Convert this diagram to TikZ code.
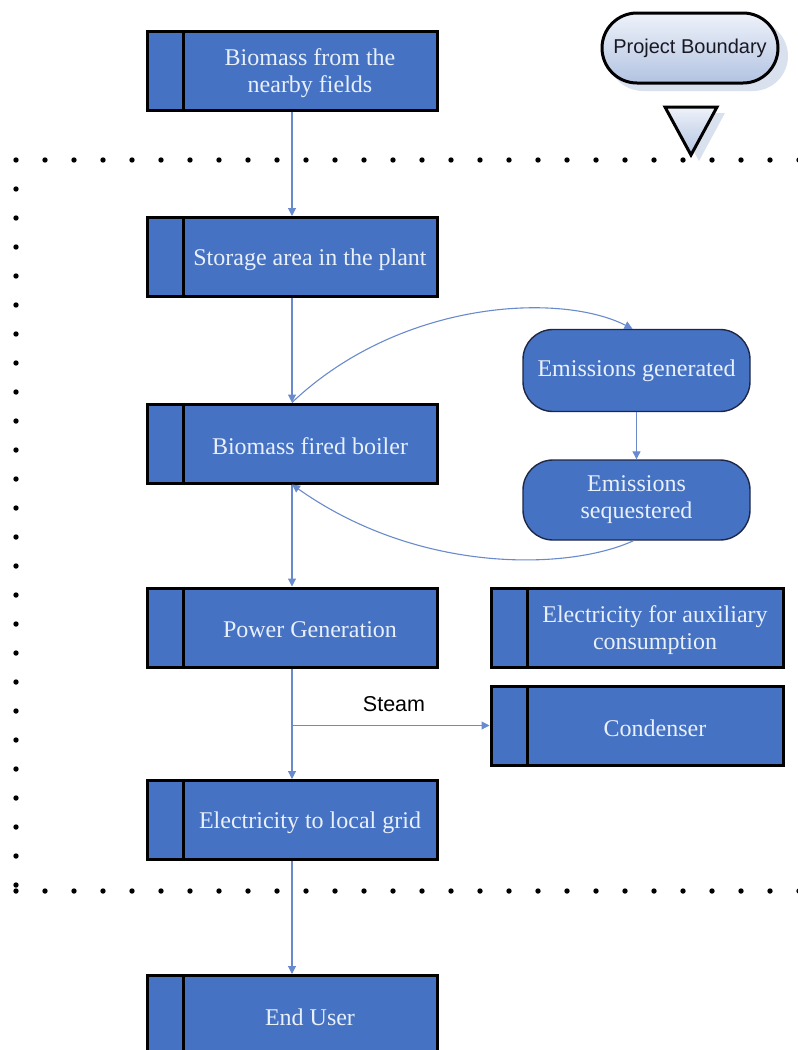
\documentclass[tikz,border=0pt]{standalone}
\usepackage{fontspec}
\setmainfont{Liberation Serif}
\newfontfamily\sansf{Liberation Sans}
\usetikzlibrary{arrows.meta,shapes.misc}
\definecolor{boxblue}{RGB}{70,114,196}
\definecolor{boxtxtc}{RGB}{232,240,250}
\definecolor{flowc}{RGB}{105,138,204}
\definecolor{pbtop}{RGB}{238,242,250}
\definecolor{pbbot}{RGB}{178,195,225}
\definecolor{shadowc}{RGB}{218,225,238}
\tikzset{
  procbox/.style={draw=black, line width=3pt, fill=boxblue, minimum width=290pt, minimum height=79pt, inner sep=0pt,
    path picture={\draw[line width=3pt] ([xshift=36pt]path picture bounding box.north west) -- ([xshift=36pt]path picture bounding box.south west);}},
  roundbox/.style={draw={rgb,255:red,30;green,40;blue,70}, line width=1.4pt, fill=boxblue, rounded corners=30pt,
    minimum width=227pt, minimum height=82pt, inner sep=2pt, align=center, text=boxtxtc, font=\fontsize{24}{27}\selectfont},
  boxtxt/.style={text=boxtxtc, align=center, font=\fontsize{24}{27}\selectfont, inner sep=0pt},
  flow/.style={draw=flowc, line width=1.1pt, -{Triangle[width=8pt,length=8pt]}},
  bdot/.style={fill=black}
}
\begin{document}
\begin{tikzpicture}[x=1pt,y=-1pt]
\useasboundingbox (0,0) rectangle (798,1050);
% boundary dots
\foreach \i in {0,...,27} {\fill[bdot] (16+29*\i,160) circle (2.7);}
\foreach \i in {1,...,25} {\fill[bdot] (16,160+29*\i) circle (2.7);}
\foreach \i in {0,...,27} {\fill[bdot] (16+29*\i,891) circle (2.7);}
% project boundary symbol
\fill[shadowc, rounded corners=35pt] (608,21) rectangle (788,91);
\node[draw=black, line width=3pt, rounded rectangle, top color=pbtop, bottom color=pbbot,
  minimum width=180pt, minimum height=70pt, inner sep=2pt, font=\sansf\fontsize{20}{24}\selectfont, text={rgb,255:red,25;green,25;blue,35}]
  (pb) at (690,48) {Project Boundary};
\fill[shadowc] (673,113) -- (725,113) -- (699,161) -- cycle;
\coordinate (tA) at (665,107);
\coordinate (tB) at (717,107);
\coordinate (tC) at (691,155);
\shade[top color=pbtop, bottom color=pbbot] (tA) -- (tB) -- (tC) -- cycle;
\draw[line width=3pt, line join=miter] (tA) -- (tB) -- (tC) -- cycle;
% main process boxes
\node[procbox] (b1) at (292,70.5) {};
\node[boxtxt] (b1t) at ([xshift=18pt,yshift=-2.5pt]b1.center) {Biomass from the\\nearby fields};
\node[procbox] (b2) at (292,257) {};
\node[boxtxt] (b2t) at ([xshift=18pt,yshift=-2.5pt]b2.center) {Storage area in the plant};
\node[procbox] (b3) at (292,443.5) {};
\node[boxtxt] (b3t) at ([xshift=18pt,yshift=-2.5pt]b3.center) {Biomass fired boiler};
\node[procbox] (b4) at (292,627.5) {};
\node[boxtxt] (b4t) at ([xshift=18pt,yshift=-2.5pt]b4.center) {Power Generation};
\node[procbox] (b5) at (292,820) {};
\node[boxtxt] (b5t) at ([xshift=18pt,yshift=-2.5pt]b5.center) {Electricity to local grid};
\node[procbox] (b6) at (292,1015) {};
\node[boxtxt] (b6t) at ([xshift=18pt,yshift=-2.5pt]b6.center) {End User};
\node[procbox, minimum width=292pt] (aux) at (637,628) {};
\node[boxtxt] (auxt) at ([xshift=18pt,yshift=-2.5pt]aux.center) {Electricity for auxiliary\\consumption};
\node[procbox, minimum width=292pt] (cond) at (637,725.5) {};
\node[boxtxt] (condt) at ([xshift=18pt,yshift=-2.5pt]cond.center) {Condenser};
% emissions
\node[roundbox] (eg) at (636.5,370.5) {Emissions generated};
\node[roundbox, minimum height=80pt] (es) at (636.5,500) {Emissions\\sequestered};
% connectors
\draw[flow] (b1.south) -- (b2.north);
\draw[flow] (b2.south) -- (b3.north);
\draw[flow] (b3.south) -- (b4.north);
\coordinate (stm) at (b4.south |- cond.west);
\draw[flow] (b4.south) -- (b5.north);
\draw[flow] (stm) -- (cond.west);
\node[anchor=base, font=\sansf\fontsize{21.5}{24}\selectfont, text=black, inner sep=0pt] (steam) at (394,711) {Steam};
\draw[flow] (b5.south) -- (b6.north);
\draw[flow] (eg.south) -- (es.north);
\coordinate (egin) at ([xshift=-4pt]eg.north);
\draw[flow] (b3.north) .. controls (400,300) and (560,292) .. (egin);
\coordinate (esout) at ([xshift=-3pt]es.south);
\draw[flow] (esout) .. controls (570,570) and (420,575) .. (b3.south);
\end{tikzpicture}
\end{document}
